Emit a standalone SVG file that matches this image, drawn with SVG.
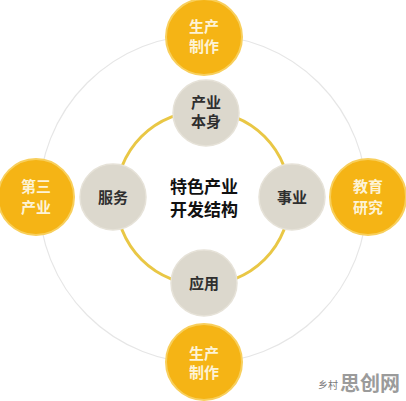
<svg xmlns="http://www.w3.org/2000/svg" width="406" height="401" viewBox="0 0 406 401">
<style>
text{font-family:"Noto Sans CJK SC","Noto Sans",sans-serif;text-anchor:middle;font-weight:bold}
.y{fill:#f5b415;stroke:#f8cf5c;stroke-width:2}
.g{fill:#dcd8cd;stroke:#e6e2d8;stroke-width:1.5}
.yt{fill:#fdf3d6;font-size:15px}
.gt{fill:#2f2f2f;font-size:15px}
.ct{fill:#111;font-size:17px}
</style>
<rect width="406" height="401" fill="#ffffff"/>
<g id="connectors">
<circle cx="203" cy="199" r="164" fill="none" stroke="#e6e6e6" stroke-width="1.2"/>
<circle cx="203" cy="198" r="87" fill="none" stroke="#e9c745" stroke-width="3"/>
</g>
<g id="center"><text class="ct" x="204" y="193">特色产业</text><text class="ct" x="204" y="216">开发结构</text></g>
<g id="top"><circle class="y" cx="204" cy="37" r="38"/><text class="yt" x="204" y="32">生产</text><text class="yt" x="204" y="52">制作</text></g>
<g id="left"><circle class="y" cx="36" cy="197" r="38"/><text class="yt" x="36" y="192">第三</text><text class="yt" x="36" y="213">产业</text></g>
<g id="right"><circle class="y" cx="368" cy="197" r="38"/><text class="yt" x="368" y="192">教育</text><text class="yt" x="368" y="213">研究</text></g>
<g id="bottom"><circle class="y" cx="204" cy="362" r="38"/><text class="yt" x="204" y="359">生产</text><text class="yt" x="204" y="378">制作</text></g>
<g id="n-top"><circle class="g" cx="206" cy="113" r="33"/><text class="gt" x="206" y="108">产业</text><text class="gt" x="206" y="127">本身</text></g>
<g id="n-left"><circle class="g" cx="113" cy="197" r="33"/><text class="gt" x="113" y="203">服务</text></g>
<g id="n-right"><circle class="g" cx="292" cy="197" r="33"/><text class="gt" x="292" y="203">事业</text></g>
<g id="n-bottom"><circle class="g" cx="204" cy="283" r="33"/><text class="gt" x="204" y="289">应用</text></g>
<g id="watermark">
<text x="328" y="389" style="font-size:10px;font-weight:normal;fill:#777">乡村</text>
<text x="370" y="391" style="font-size:20px;fill:#8a8a8a;opacity:0.85">思创网</text>
</g>
</svg>
